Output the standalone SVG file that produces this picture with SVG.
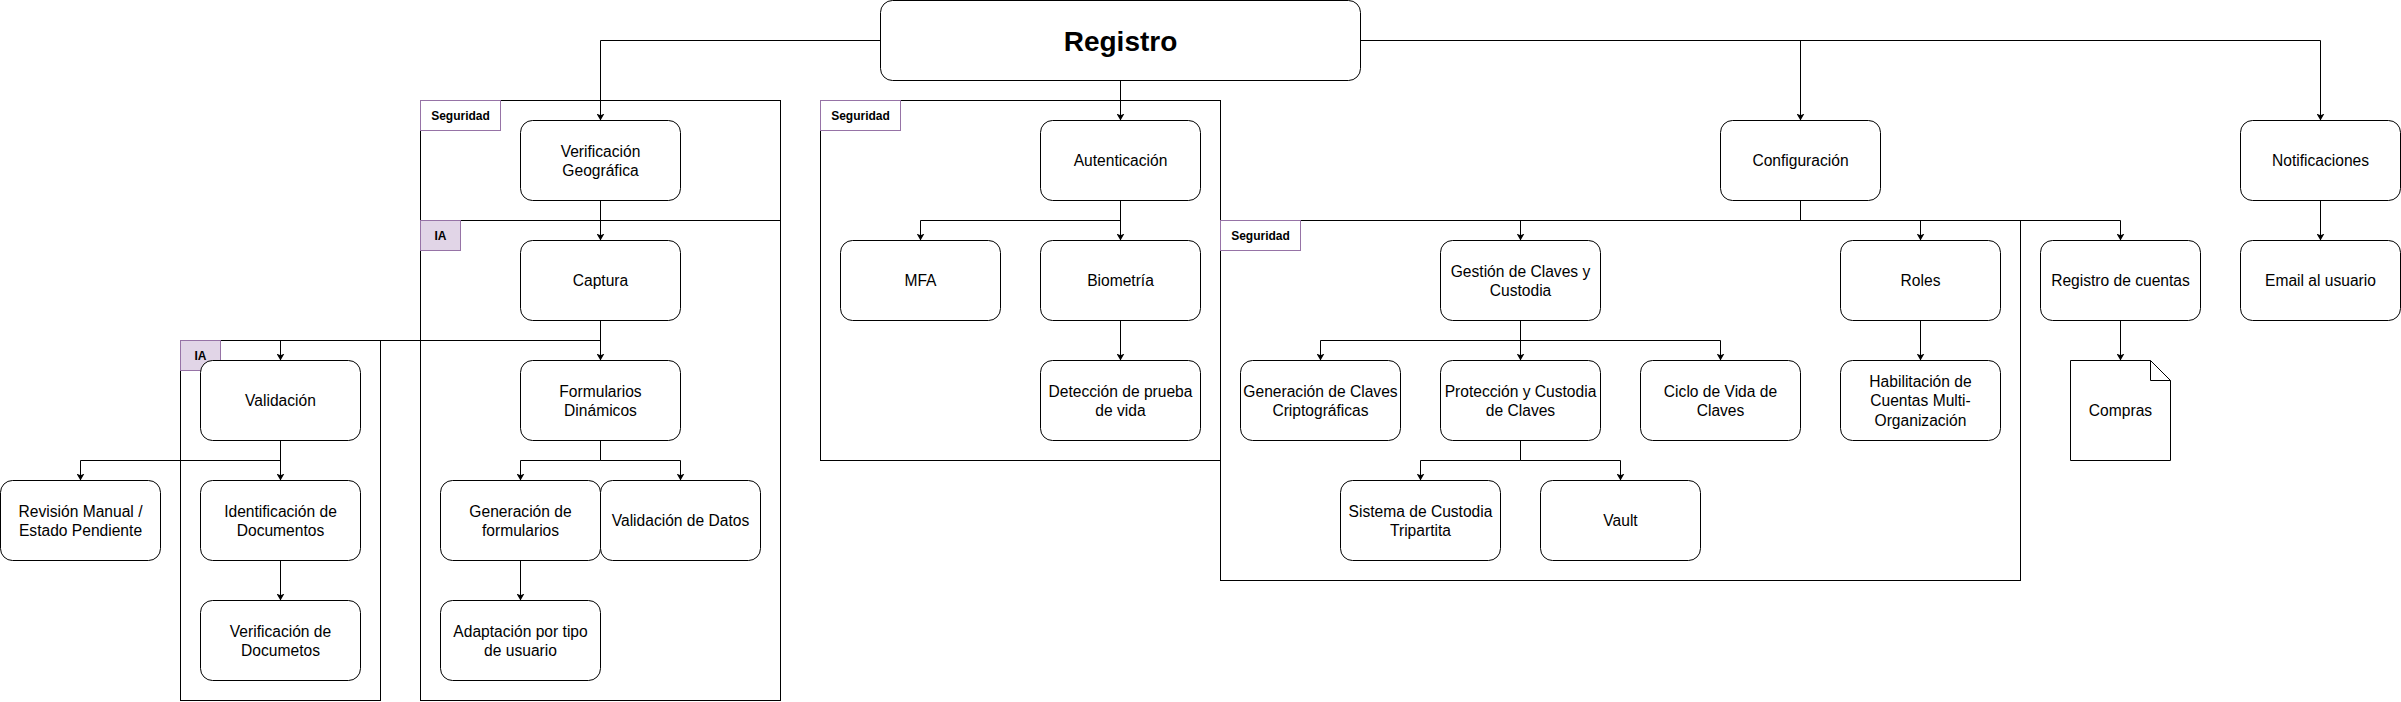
<svg xmlns="http://www.w3.org/2000/svg" width="2401" height="702" viewBox="0 0 2401 702">
<style>
.n{fill:#ffffff;stroke:#000000;stroke-width:1}
.c{fill:none;stroke:#000000;stroke-width:1}
.ls{fill:#ffffff;stroke:#9673a6;stroke-width:1}
.li{fill:#e1d5e7;stroke:#9673a6;stroke-width:1}
.e{fill:none;stroke:#000000;stroke-width:1;marker-end:url(#a)}
text{font-family:"Liberation Sans",Arial,Helvetica,sans-serif;fill:#000000;text-anchor:middle}
.t{font-size:15.6px}
.b{font-size:12px;font-weight:bold}
.r{font-size:28px;font-weight:bold}
</style>
<defs>
<marker id="a" viewBox="0 0 7 8" refX="7" refY="4" markerWidth="7" markerHeight="8" orient="auto" markerUnits="userSpaceOnUse">
<path d="M0,0 L7,4 L0,8 L1.75,4 z" fill="#000000" stroke="none"/>
</marker>
</defs>
<g transform="translate(0.5,0.5)">
<g id="containers">
<g id="seg1"><rect class="c" x="420" y="100" width="360" height="600"/><rect class="ls" x="420" y="100" width="80" height="30"/><text class="b" x="460" y="119.5">Seguridad</text></g>
<g id="ia1"><rect class="c" x="420" y="220" width="360" height="480"/><rect class="li" x="420" y="220" width="40" height="30"/><text class="b" x="440" y="239.5">IA</text></g>
<g id="ia2"><rect class="c" x="180" y="340" width="200" height="360"/><rect class="li" x="180" y="340" width="40" height="30"/><text class="b" x="200" y="359.5">IA</text></g>
<g id="seg2"><rect class="c" x="820" y="100" width="400" height="360"/><rect class="ls" x="820" y="100" width="80" height="30"/><text class="b" x="860" y="119.5">Seguridad</text></g>
<g id="seg3"><rect class="c" x="1220" y="220" width="800" height="360"/><rect class="ls" x="1220" y="220" width="80" height="30"/><text class="b" x="1260" y="239.5">Seguridad</text></g>
</g>
<g id="connectors">
<path class="e" d="M880,40 L600,40 L600,120"/>
<path class="e" d="M1120,80 L1120,120"/>
<path class="e" d="M1360,40 L1800,40 L1800,120"/>
<path class="e" d="M1360,40 L2320,40 L2320,120"/>
<path class="e" d="M600,200 L600,240"/>
<path class="e" d="M600,320 L600,360"/>
<path class="e" d="M600,320 L600,340 L280,340 L280,360"/>
<path class="e" d="M280,440 L280,460 L80,460 L80,480"/>
<path class="e" d="M280,440 L280,480"/>
<path class="e" d="M280,560 L280,600"/>
<path class="e" d="M600,440 L600,460 L520,460 L520,480"/>
<path class="e" d="M600,440 L600,460 L680,460 L680,480"/>
<path class="e" d="M520,560 L520,600"/>
<path class="e" d="M1120,200 L1120,220 L920,220 L920,240"/>
<path class="e" d="M1120,200 L1120,240"/>
<path class="e" d="M1120,320 L1120,360"/>
<path class="e" d="M1800,200 L1800,220 L1520,220 L1520,240"/>
<path class="e" d="M1800,200 L1800,220 L1920,220 L1920,240"/>
<path class="e" d="M1800,200 L1800,220 L2120,220 L2120,240"/>
<path class="e" d="M1520,320 L1520,340 L1320,340 L1320,360"/>
<path class="e" d="M1520,320 L1520,360"/>
<path class="e" d="M1520,320 L1520,340 L1720,340 L1720,360"/>
<path class="e" d="M1520,440 L1520,460 L1420,460 L1420,480"/>
<path class="e" d="M1520,440 L1520,460 L1620,460 L1620,480"/>
<path class="e" d="M1920,320 L1920,360"/>
<path class="e" d="M2120,320 L2120,360"/>
<path class="e" d="M2320,200 L2320,240"/>
</g>
<g id="registro"><rect class="n" x="880" y="0" width="480" height="80" rx="12"/><text class="r" x="1120" y="50">Registro</text></g>
<g id="verif-geo"><rect class="n" x="520" y="120" width="160" height="80" rx="12"/><text class="t" x="600" y="156"><tspan x="600">Verificación</tspan><tspan x="600" dy="19.5">Geográfica</tspan></text></g>
<g id="captura"><rect class="n" x="520" y="240" width="160" height="80" rx="12"/><text class="t" x="600" y="285.5">Captura</text></g>
<g id="formularios"><rect class="n" x="520" y="360" width="160" height="80" rx="12"/><text class="t" x="600" y="396"><tspan x="600">Formularios</tspan><tspan x="600" dy="19.5">Dinámicos</tspan></text></g>
<g id="gen-form"><rect class="n" x="440" y="480" width="160" height="80" rx="12"/><text class="t" x="520" y="516"><tspan x="520">Generación de</tspan><tspan x="520" dy="19.5">formularios</tspan></text></g>
<g id="val-datos"><rect class="n" x="600" y="480" width="160" height="80" rx="12"/><text class="t" x="680" y="525.5">Validación de Datos</text></g>
<g id="adaptacion"><rect class="n" x="440" y="600" width="160" height="80" rx="12"/><text class="t" x="520" y="636"><tspan x="520">Adaptación por tipo</tspan><tspan x="520" dy="19.5">de usuario</tspan></text></g>
<g id="validacion"><rect class="n" x="200" y="360" width="160" height="80" rx="12"/><text class="t" x="280" y="405.5">Validación</text></g>
<g id="revision"><rect class="n" x="0" y="480" width="160" height="80" rx="12"/><text class="t" x="80" y="516"><tspan x="80">Revisión Manual /</tspan><tspan x="80" dy="19.5">Estado Pendiente</tspan></text></g>
<g id="identificacion"><rect class="n" x="200" y="480" width="160" height="80" rx="12"/><text class="t" x="280" y="516"><tspan x="280">Identificación de</tspan><tspan x="280" dy="19.5">Documentos</tspan></text></g>
<g id="verif-doc"><rect class="n" x="200" y="600" width="160" height="80" rx="12"/><text class="t" x="280" y="636"><tspan x="280">Verificación de</tspan><tspan x="280" dy="19.5">Documetos</tspan></text></g>
<g id="autenticacion"><rect class="n" x="1040" y="120" width="160" height="80" rx="12"/><text class="t" x="1120" y="165.5">Autenticación</text></g>
<g id="mfa"><rect class="n" x="840" y="240" width="160" height="80" rx="12"/><text class="t" x="920" y="285.5">MFA</text></g>
<g id="biometria"><rect class="n" x="1040" y="240" width="160" height="80" rx="12"/><text class="t" x="1120" y="285.5">Biometría</text></g>
<g id="deteccion"><rect class="n" x="1040" y="360" width="160" height="80" rx="12"/><text class="t" x="1120" y="396"><tspan x="1120">Detección de prueba</tspan><tspan x="1120" dy="19.5">de vida</tspan></text></g>
<g id="configuracion"><rect class="n" x="1720" y="120" width="160" height="80" rx="12"/><text class="t" x="1800" y="165.5">Configuración</text></g>
<g id="gestion"><rect class="n" x="1440" y="240" width="160" height="80" rx="12"/><text class="t" x="1520" y="276"><tspan x="1520">Gestión de Claves y</tspan><tspan x="1520" dy="19.5">Custodia</tspan></text></g>
<g id="gen-claves"><rect class="n" x="1240" y="360" width="160" height="80" rx="12"/><text class="t" x="1320" y="396"><tspan x="1320">Generación de Claves</tspan><tspan x="1320" dy="19.5">Criptográficas</tspan></text></g>
<g id="proteccion"><rect class="n" x="1440" y="360" width="160" height="80" rx="12"/><text class="t" x="1520" y="396"><tspan x="1520">Protección y Custodia</tspan><tspan x="1520" dy="19.5">de Claves</tspan></text></g>
<g id="ciclo"><rect class="n" x="1640" y="360" width="160" height="80" rx="12"/><text class="t" x="1720" y="396"><tspan x="1720">Ciclo de Vida de</tspan><tspan x="1720" dy="19.5">Claves</tspan></text></g>
<g id="sistema"><rect class="n" x="1340" y="480" width="160" height="80" rx="12"/><text class="t" x="1420" y="516"><tspan x="1420">Sistema de Custodia</tspan><tspan x="1420" dy="19.5">Tripartita</tspan></text></g>
<g id="vault"><rect class="n" x="1540" y="480" width="160" height="80" rx="12"/><text class="t" x="1620" y="525.5">Vault</text></g>
<g id="roles"><rect class="n" x="1840" y="240" width="160" height="80" rx="12"/><text class="t" x="1920" y="285.5">Roles</text></g>
<g id="habilitacion"><rect class="n" x="1840" y="360" width="160" height="80" rx="12"/><text class="t" x="1920" y="386"><tspan x="1920">Habilitación de</tspan><tspan x="1920" dy="19.5">Cuentas Multi-</tspan><tspan x="1920" dy="19.5">Organización</tspan></text></g>
<g id="registro-cuentas"><rect class="n" x="2040" y="240" width="160" height="80" rx="12"/><text class="t" x="2120" y="285.5">Registro de cuentas</text></g>
<g id="compras"><path class="n" d="M2070,360 L2150,360 L2170,380 L2170,460 L2070,460 Z M2150,360 L2150,380 L2170,380"/><text class="t" x="2120" y="415.5">Compras</text></g>
<g id="notificaciones"><rect class="n" x="2240" y="120" width="160" height="80" rx="12"/><text class="t" x="2320" y="165.5">Notificaciones</text></g>
<g id="email"><rect class="n" x="2240" y="240" width="160" height="80" rx="12"/><text class="t" x="2320" y="285.5">Email al usuario</text></g>
</g>
</svg>
